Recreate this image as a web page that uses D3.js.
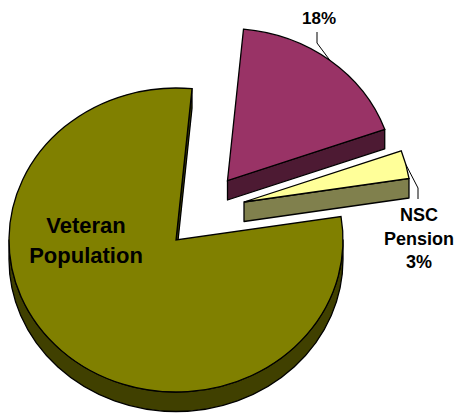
<!DOCTYPE html>
<html>
<head>
<meta charset="utf-8">
<script src="https://cdn.jsdelivr.net/npm/d3@7"></script>
<style>
  html, body { margin: 0; padding: 0; background: #fff; }
  svg { display: block; }
  text { font-family: "Liberation Sans", Arial, sans-serif; font-weight: bold; fill: #000; }
</style>
</head>
<body>
<div id="vis"></div>
<script>
// slices, clockwise from the top of the pie
var categories = ["Other", "NSC Pension", "Veteran Population"];
var shares = [18, 3, 79];
var topColors = ["#993366", "#ffff99", "#808000"];
var wallColors = ["#4d1a33", "#80804d", "#404000"];

var width = 455, height = 416;
var rx = 167, ry = 152, depth = 19.5;
var rotation = 5.5 * Math.PI / 180;

// where each slice's point ends up once pulled out of the pie
var apexes = [[227.5, 180.5], [244, 202], [176, 240]];

var svg = d3.select("#vis").append("svg")
    .attr("width", width)
    .attr("height", height);

var pie = d3.pie().sort(null).startAngle(rotation).endAngle(rotation + 2 * Math.PI);
var slices = pie(shares);
var arc = d3.arc().innerRadius(0).outerRadius(rx);

function onRim(a) {
    return [rx * Math.sin(a), -ry * Math.cos(a)];
}

// side of a slice: the cut edges and the part of the rim that face us
function wallPath(d) {
    var s = "";
    function edge(a) {
        var e = onRim(a);
        s += "M0,0L" + e[0] + "," + e[1] + "L" + e[0] + "," + (e[1] + depth) + "L0," + depth + "Z";
    }
    if (Math.sin(d.startAngle) < 0) edge(d.startAngle);
    if (Math.sin(d.endAngle) > 0) edge(d.endAngle);
    var from = Math.max(d.startAngle, Math.PI / 2);
    var to = Math.min(d.endAngle, 3 * Math.PI / 2);
    if (to > from) {
        var a = onRim(from), b = onRim(to);
        var large = to - from > Math.PI ? 1 : 0;
        s += "M" + a[0] + "," + a[1];
        s += "A" + rx + "," + ry + " 0 " + large + " 1 " + b[0] + "," + b[1];
        s += "L" + b[0] + "," + (b[1] + depth);
        s += "A" + rx + "," + ry + " 0 " + large + " 0 " + a[0] + "," + (a[1] + depth) + "Z";
    }
    return s;
}

var groups = svg.selectAll("g.slice")
    .data(slices)
    .enter()
    .append("g")
    .attr("class", "slice")
    .attr("transform", function (d, i) { return "translate(" + apexes[i] + ")"; });

groups.append("path")
    .attr("d", wallPath)
    .attr("fill", function (d, i) { return wallColors[i]; })
    .attr("stroke", "#000")
    .attr("stroke-width", 1.3)
    .attr("stroke-linejoin", "round");

groups.append("path")
    .attr("d", arc)
    .attr("transform", "scale(1," + (ry / rx) + ")")
    .attr("fill", function (d, i) { return topColors[i]; })
    .attr("stroke", "#000")
    .attr("stroke-width", 1.3)
    .attr("stroke-linejoin", "miter")
    .attr("vector-effect", "non-scaling-stroke");

// leader lines run from the middle of the slice's rim to its label
var leaders = [
    { slice: 0, elbow: [317, 43], end: [317, 32] },
    { slice: 1, elbow: [418, 188], end: [418, 199] }
];

svg.selectAll("path.leader")
    .data(leaders)
    .enter()
    .append("path")
    .attr("class", "leader")
    .attr("fill", "none")
    .attr("stroke", "#000")
    .attr("stroke-width", 1)
    .attr("d", function (l) {
        var d = slices[l.slice];
        var m = onRim((d.startAngle + d.endAngle) / 2);
        var start = [apexes[l.slice][0] + m[0], apexes[l.slice][1] + m[1]];
        return d3.line()([start, l.elbow, l.end]);
    });

var labels = [
    { lines: [shares[0] + "%"], x: 319, y: 24, size: 17, gap: 0 },
    { lines: [categories[1].split(" ")[0], categories[1].split(" ")[1], shares[1] + "%"], x: 419, y: 221, size: 18, gap: 23.5 },
    { lines: categories[2].split(" "), x: 86, y: 233, size: 22, gap: 30 }
];

labels.forEach(function (l) {
    svg.selectAll(null)
        .data(l.lines)
        .enter()
        .append("text")
        .attr("x", l.x)
        .attr("y", function (t, i) { return l.y + i * l.gap; })
        .attr("text-anchor", "middle")
        .style("font-size", l.size + "px")
        .text(function (t) { return t; });
});
</script>
</body>
</html>
